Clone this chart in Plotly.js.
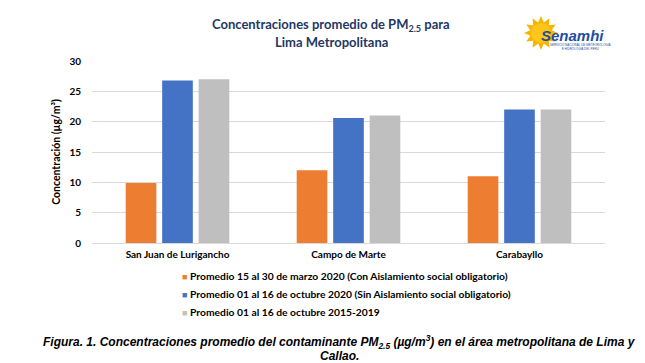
<!DOCTYPE html>
<html><head><meta charset="utf-8">
<script src="https://cdn.plot.ly/plotly-3.0.1.min.js"></script>
<style>html,body{margin:0;padding:0;background:#fff}#chart{width:645px;height:363px}</style>
</head><body><div id="chart"></div>
<script>
const categories = ["San Juan de Lurigancho", "Campo de Marte", "Carabayllo"];
const seriesNames = [
  "Promedio 15 al 30 de marzo 2020 (Con Aislamiento social obligatorio)",
  "Promedio 01 al 16 de octubre 2020 (Sin Aislamiento social obligatorio)",
  "Promedio 01 al 16 de octubre 2015-2019"
];
const marzo2020 = [9.9, 12.0, 11.0];
const octubre2020 = [26.8, 20.6, 22.0];
const octubre2015_2019 = [27.0, 21.0, 22.0];
const yTicks = [0, 5, 10, 15, 20, 25, 30];

const colors = ["#ED7D31", "#4472C4", "#BFBFBF"];
const FONT = "Lato, 'Open Sans', sans-serif";
const ARIAL = "'Liberation Sans', Arial, sans-serif";
const seriesValues = [marzo2020, octubre2020, octubre2015_2019];
const traces = seriesValues.map((v, i) => ({
  type: "bar", x: categories, y: v, name: seriesNames[i],
  marker: {color: colors[i]}, hoverinfo: "none", showlegend: false
}));

// plot area geometry for decoration placement
const L = 92, R = 40, T = 61, B = 120, W = 645, H = 363;
const pw = W - L - R, ph = H - T - B;
const px = x => (x - L) / pw, py = y => (H - B - y) / ph;
function star(cx, cy, ro, ri, n) {
  let d = "";
  for (let k = 0; k < 2 * n; k++) {
    const a = Math.PI * k / n - Math.PI / 2;
    const r = k % 2 ? ri : ro;
    d += (k ? "L" : "M") + px(cx + r * Math.cos(a)).toFixed(4) + "," + py(cy + r * Math.sin(a)).toFixed(4);
  }
  return d + "Z";
}

// compact legend (small square + text) built from the series names
const legendAnn = seriesNames.map((n, i) => ({
  xref: "paper", yref: "paper", x: px(180), y: py(276 + 18 * i), xanchor: "left", yanchor: "middle",
  text: '<span style="color:' + colors[i] + ';font-size:9px">■</span> <b>' + n + '</b>',
  showarrow: false, font: {family: FONT, size: 10.3, color: "#000"}
}));

const layout = {
  width: W, height: H,
  margin: {l: L, r: R, t: T, b: B},
  paper_bgcolor: "#fff", plot_bgcolor: "#fff",
  font: {family: FONT, color: "#000"},
  showlegend: false,
  bargap: 0.36, bargroupgap: 0.16, barmode: "group",
  xaxis: {
    type: "category", showgrid: false, zeroline: false, showline: false,
    tickfont: {family: FONT, size: 10, color: "#000", weight: "bold"},
    ticks: "", ticklabelstandoff: 4, fixedrange: true
  },
  yaxis: {
    range: [0, 30], tickvals: yTicks, showgrid: true, gridcolor: "#D9D9D9", gridwidth: 1,
    zeroline: true, zerolinecolor: "#D9D9D9", showline: false, ticks: "",
    tickfont: {family: FONT, size: 10, color: "#000", weight: "bold"},
    ticklabelstandoff: 10,
    title: {text: "<b>Concentración (µg/m³)</b>", font: {family: FONT, size: 10.5, color: "#000"}, standoff: 6},
    fixedrange: true
  },
  shapes: [
    {type: "path", xref: "paper", yref: "paper", path: star(541, 33, 17, 11, 12),
     fillcolor: "#F7B500", line: {width: 0}},
    {type: "circle", xref: "paper", yref: "paper", x0: px(531), x1: px(551), y0: py(43), y1: py(23),
     fillcolor: "#FFC61A", line: {width: 0}}
  ],
  annotations: [
    {xref: "paper", yref: "paper", x: px(331), y: py(25), xanchor: "center", yanchor: "middle",
     text: "<b>Concentraciones promedio de PM<sub>2.5</sub> para</b>", showarrow: false,
     font: {family: FONT, size: 13, color: "#1F3864"}},
    {xref: "paper", yref: "paper", x: px(331), y: py(42), xanchor: "center", yanchor: "middle",
     text: "<b>Lima Metropolitana</b>", showarrow: false,
     font: {family: FONT, size: 13, color: "#1F3864"}},
    {xref: "paper", yref: "paper", x: px(572), y: py(35), xanchor: "center", yanchor: "middle",
     text: "<b><i>Senamhi</i></b>", showarrow: false,
     font: {family: ARIAL, size: 15, color: "#1F4E9E"}},
    {xref: "paper", yref: "paper", x: px(580), y: py(47), xanchor: "center", yanchor: "middle",
     text: "SERVICIO NACIONAL DE METEOROLOGÍA<br>E HIDROLOGÍA DEL PERÚ", showarrow: false,
     font: {family: ARIAL, size: 3, color: "#1F4E9E"}},
    ...legendAnn,
    {xref: "paper", yref: "paper", x: px(339), y: py(342), xanchor: "center", yanchor: "middle",
     text: "<b><i>Figura. 1. Concentraciones promedio del contaminante PM<sub>2.5</sub> (µg/m<sup>3</sup>) en el área metropolitana de Lima y</i></b>",
     showarrow: false, font: {family: ARIAL, size: 12, color: "#000"}},
    {xref: "paper", yref: "paper", x: px(339), y: py(356), xanchor: "center", yanchor: "middle",
     text: "<b><i>Callao.</i></b>",
     showarrow: false, font: {family: ARIAL, size: 12, color: "#000"}}
  ]
};

Plotly.newPlot("chart", traces, layout, {displayModeBar: false, staticPlot: true});
</script></body></html>
